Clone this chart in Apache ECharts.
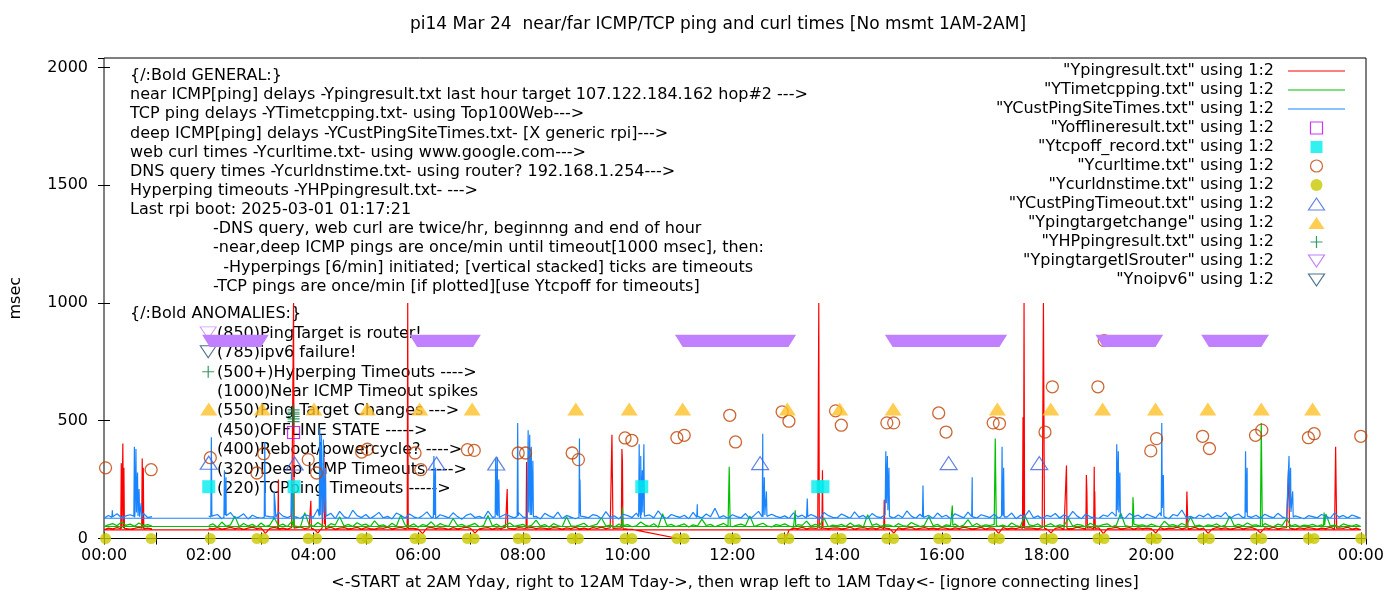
<!DOCTYPE html>
<html>
<head>
<meta charset="utf-8">
<script src="https://cdn.jsdelivr.net/npm/echarts@6/dist/echarts.min.js"></script>
<style>
html,body{margin:0;padding:0;background:#fff;}
#chart{width:1400px;height:600px;}
</style>
</head>
<body>
<div id="chart"></div>
<script>
// ---------------- DATA ----------------
// Regular 5-minute samples from 02:00 to 24:00 (one row per hour), then 00:00-00:55 (wrapped part)
const GRID_START = 2;          // hours
const EARLY_START = 0;         // hours
const STEP_MIN = 5;            // minutes between samples

const redGrid = [
 44,41,46,40,43,47,42,45,39,44,48,42,
 45,22,43,47,41,44,40,46,43,49,42,45,
 41,24,45,42,48,40,44,46,41,43,47,40,
 46,42,40,45,43,48,41,44,47,42,45,43,
 40,21,44,47,42,45,43,39,46,41,44,48,
 43,23,41,44,46,40,45,42,48,43,41,46,
 44,40,47,42,45,43,41,46,44,40,45,42,
 47,41,44,40,46,43,48,42,45,41,44,43,
 40,39,null,null,null,null,null,null,null,null,null,null,
 null,null,null,null,null,null,null,null,null,null,null,null,
 null,null,null,null,null,null,null,null,null,null,null,null,
 null,36,44,42,47,41,45,43,40,46,42,44,
 45,41,43,48,40,44,46,42,45,41,47,43,
 42,23,45,41,44,47,40,43,46,42,44,41,
 46,43,40,45,42,48,44,41,43,47,40,45,
 43,22,46,41,44,42,47,40,45,43,41,46,
 41,24,43,46,40,45,42,48,44,41,46,43,
 45,21,42,44,47,41,43,46,40,45,42,44,
 42,23,46,40,44,43,48,41,45,42,47,40,
 44,22,41,46,42,45,40,43,47,41,44,46,
 40,24,45,42,48,41,44,46,43,40,45,42,
 46,43,40,44,42,47,41,45,43,48,40,44,
 37
];
const redEarly = [37,44,41,46,42,45,40,43,47,42,44,41];
const redSpikes = [
 [0.32,42],[0.33,320],[0.34,60],[0.36,403],[0.37,45],[0.38,300],[0.39,43],
 [0.72,44],[0.73,340],[0.74,60],[0.75,300],[0.76,42],
 [3.32,43],[3.33,250],[3.34,44],
 [3.61,45],[3.62,1000],[3.63,44],
 [3.94,42],[3.95,160],[3.96,43],
 [4.19,44],[4.20,345],[4.21,60],[4.22,250],[4.23,42],
 [5.79,44],[5.80,1000],[5.81,43],
 [7.69,42],[7.70,210],[7.71,44],
 [8.06,43],[8.07,325],[8.08,44],
 [9.69,42],[9.70,440],[9.71,240],[9.72,43],
 [9.88,44],[9.89,380],[9.90,330],[9.91,42],
 [10.97,0],[12.0,null],[13.02,0],
 [13.63,44],[13.64,515],[13.65,1000],[13.66,45],[13.71,43],[13.72,290],[13.73,44],
 [14.89,42],[14.90,165],[14.91,44],
 [17.54,43],[17.55,515],[17.56,45],[17.57,1000],[17.58,44],
 [17.93,42],[17.94,1000],[17.95,515],[17.96,43],
 [18.37,44],[18.38,310],[18.39,42],
 [18.75,43],[18.76,270],[18.77,200],[18.78,44],
 [18.90,42],[18.91,305],[18.92,200],[18.93,43],
 [20.67,44],[20.68,200],[20.69,120],[20.70,42],
 [22.61,43],[22.62,290],[22.63,170],[22.64,44],
 [23.51,42],[23.52,390],[23.53,214],[23.54,43]
];

const greenGrid = [
 55,62,48,70,52,58,95,50,64,53,60,49,
 66,51,57,88,54,61,50,72,56,48,110,59,
 52,68,55,49,63,57,92,53,60,51,67,56,
 61,50,75,54,58,49,65,52,100,57,53,62,
 48,59,54,71,50,63,56,52,85,55,60,51,
 57,64,50,55,98,53,61,49,58,66,52,56,
 60,51,56,78,53,59,48,63,55,50,92,54,
 52,58,65,50,55,61,88,53,57,49,62,56,
 59,50,54,70,57,52,63,48,105,55,60,51,
 56,62,49,58,53,82,55,60,50,57,64,52,
 50,57,61,54,96,51,58,65,53,49,59,55,
 62,53,48,59,56,74,52,60,55,87,50,57,
 54,60,51,66,53,58,49,101,56,62,52,58,
 57,50,63,55,52,68,59,51,56,93,54,60,
 49,58,55,61,50,57,80,53,64,52,58,55,
 60,52,57,50,66,55,51,99,58,54,62,50,
 56,63,51,58,54,86,52,60,57,49,65,55,
 53,59,62,50,57,108,55,51,61,56,58,52,
 61,54,50,73,56,59,52,64,55,90,53,57,
 50,58,55,62,51,57,95,54,60,53,66,56,
 58,52,63,55,50,61,56,84,53,59,51,57,
 55,60,52,58,104,54,57,50,62,56,53,59,
 51
];
const greenEarly = [51,58,63,54,70,56,61,52,66,55,59,53];
const greenSpikes = [
 [3.61,55],[3.62,200],[3.63,54],
 [9.89,52],[9.90,130],[9.91,55],
 [11.93,54],[11.94,305],[11.95,150],[11.96,53],
 [13.19,55],[13.20,120],[13.21,52],
 [16.19,54],[16.20,140],[16.21,56],
 [17.01,53],[17.02,425],[17.03,240],[17.04,55],
 [19.64,52],[19.65,175],[19.66,130],[19.67,54],
 [22.09,55],[22.10,490],[22.11,268],[22.12,53],
 [23.29,54],[23.30,110],[23.31,56]
];

const blueGrid = [
 95,88,102,84,97,110,86,92,105,83,99,90,
 87,104,93,81,112,95,89,118,92,85,101,96,
 91,125,88,99,107,84,115,93,86,120,97,89,
 102,85,96,111,88,94,83,108,99,87,104,92,
 86,97,113,90,84,101,95,88,109,93,82,98,
 105,89,94,86,116,91,99,84,103,95,88,110,
 92,87,100,94,83,107,96,89,112,85,98,91,
 84,106,93,88,101,97,85,114,90,96,83,103,
 97,89,108,86,94,100,88,117,93,85,102,95,
 90,99,84,111,95,87,104,92,128,89,97,86,
 101,93,88,106,84,98,115,91,87,103,94,89,
 96,85,109,92,99,87,102,94,83,110,97,90,
 88,104,95,86,113,91,98,84,106,93,89,101,
 94,87,100,89,117,95,86,103,92,98,85,108,
 91,99,84,105,96,88,112,93,87,101,95,89,
 103,86,97,92,108,84,99,94,119,88,96,85,
 98,93,106,87,101,90,115,95,84,104,92,88,
 86,100,94,112,89,97,85,107,93,99,87,103,
 95,88,109,91,84,102,96,121,89,94,86,100,
 92,105,87,98,93,111,85,97,104,88,95,90,
 99,86,103,94,88,107,92,85,113,96,90,84,
 97,93,88,102,95,86,109,91,98,87,100,93,
 86
];
const blueEarly = [86,98,92,105,88,96,101,90,94,107,89,93];
const blueSpikes = [
 [0.15,90],[0.16,120],[0.17,92],
 [0.57,95],[0.58,390],[0.59,100],[0.61,380],[0.62,110],[0.64,280],[0.65,96],[0.67,210],[0.68,92],[0.71,150],[0.72,90],
 [2.04,92],[2.05,430],[2.06,95],
 [2.29,90],[2.30,290],[2.31,100],[2.33,260],[2.34,92],
 [3.06,90],[3.07,410],[3.08,96],
 [3.24,92],[3.25,200],[3.27,140],[3.28,90],
 [3.57,95],[3.58,280],[3.60,200],[3.61,92],
 [4.11,95],[4.12,470],[4.13,100],[4.15,440],[4.16,105],[4.19,420],[4.20,110],[4.23,300],[4.24,95],
 [6.29,90],[6.30,350],[6.31,100],[6.33,300],[6.34,92],
 [7.47,92],[7.48,340],[7.49,120],[7.51,345],[7.52,95],[7.54,250],[7.55,90],
 [7.89,94],[7.90,490],[7.91,96],
 [8.09,90],[8.10,460],[8.11,110],[8.13,440],[8.14,100],[8.16,390],[8.17,120],[8.19,330],[8.20,92],
 [9.07,90],[9.08,425],[9.09,250],[9.10,95],
 [10.21,92],[10.22,400],[10.23,120],[10.25,350],[10.26,100],[10.28,290],[10.29,110],[10.31,400],[10.32,95],
 [11.32,90],[11.33,145],[11.34,92],
 [12.57,92],[12.58,445],[12.59,110],[12.61,260],[12.62,100],[12.65,200],[12.66,94],
 [13.42,90],[13.43,170],[13.44,93],
 [14.92,94],[14.93,370],[14.94,150],[14.96,350],[14.97,120],[14.99,300],[15.00,95],
 [15.63,92],[15.64,225],[15.65,90],
 [16.57,93],[16.58,260],[16.59,91],
 [17.14,95],[17.15,390],[17.16,110],[17.18,300],[17.19,92],
 [19.33,94],[19.34,400],[19.35,120],[19.37,370],[19.38,110],[19.40,280],[19.41,92],
 [20.19,95],[20.20,490],[20.21,130],[20.23,270],[20.24,93],
 [21.79,92],[21.80,370],[21.81,110],[21.83,300],[21.84,94],
 [22.62,91],[22.63,350],[22.64,130],[22.66,300],[22.67,110],[22.70,200],[22.71,92]
];

const offlineResult = [[3.62,450]];
const tcpOffRecord = [[2.0,220],[3.63,220],[10.27,220],[13.63,220],[13.73,220]];
const curlTimes = [
 [0.03,300],[0.90,292],[2.03,343],[2.92,278],[3.05,360],[3.90,335],[4.06,278],[4.92,367],[5.03,379],
 [5.94,363],[6.05,292],[6.94,377],[7.07,374],[7.91,363],[8.05,363],[8.94,363],[9.06,335],[9.95,427],
 [10.08,417],[10.94,428],[11.08,438],[11.95,523],[12.06,410],[12.95,538],[13.08,498],[13.97,542],
 [14.08,481],[14.95,491],[15.08,491],[15.94,533],[16.08,452],[16.98,491],[17.10,488],[17.97,452],
 [18.11,644],[18.98,644],[19.10,840],[19.99,372],[20.10,424],[20.98,434],[21.11,382],[21.99,438],
 [22.11,460],[23.00,428],[23.11,445],[24.00,434]
];
const dnsTimes = [
 [0.03,0],[0.90,0],[2.03,0],[2.92,0],[3.05,0],[3.90,0],[4.06,0],[4.92,0],[5.03,0],
 [5.94,0],[6.05,0],[6.94,0],[7.07,0],[7.91,0],[8.05,0],[8.94,0],[9.06,0],[9.95,0],
 [10.08,0],[10.94,0],[11.08,0],[11.95,0],[12.06,0],[12.95,0],[13.08,0],[13.97,0],
 [14.08,0],[14.95,0],[15.08,0],[15.94,0],[16.08,0],[16.98,0],[17.10,0],[17.97,0],
 [18.11,0],[18.98,0],[19.10,0],[19.99,0],[20.10,0],[20.98,0],[21.11,0],[21.99,0],
 [22.11,0],[23.00,0],[23.11,0],[24.00,0]
];
const custPingTimeout = [[2.0,322],[3.64,318],[6.35,318],[7.49,318],[12.53,320],[16.13,320],[17.86,320]];
const pingTargetChange = [
 [2.00,550],[3.02,550],[4.01,550],[5.03,550],[6.03,550],[7.03,550],[9.01,550],[10.03,550],[11.05,550],
 [13.05,550],[14.05,550],[15.07,550],[17.06,550],[18.08,550],[19.07,550],[20.08,550],[21.08,550],
 [22.10,550],[23.08,550]
];
const hpPingResult = [[3.62,496],[3.62,508],[3.62,518],[3.62,528],[3.62,536],[3.62,546]];
// periods (start hour, end hour, level) with one marker per minute -> drawn as a merged band
const pingTargetIsRouter = [[2.02,3.0,840],[5.98,7.05,840],[11.05,13.07,840],[15.06,17.1,840],[19.08,20.08,840],[21.1,22.1,840]];
const noIpv6 = [];

const xTickHours = [0,2,4,6,8,10,12,14,16,18,20,22,24];
const yTicks = [0,500,1000,1500,2000];

const titleText = 'pi14 Mar 24  near/far ICMP/TCP ping and curl times [No msmt 1AM-2AM]';
const xAxisTitle = '<-START at 2AM Yday, right to 12AM Tday->, then wrap left to 1AM Tday<- [ignore connecting lines]';
const yAxisTitle = 'msec';
const generalLines = [
 '{/:Bold GENERAL:}',
 'near ICMP[ping] delays -Ypingresult.txt last hour target 107.122.184.162 hop#2 --->',
 'TCP ping delays -YTimetcpping.txt- using Top100Web--->',
 'deep ICMP[ping] delays -YCustPingSiteTimes.txt- [X generic rpi]--->',
 'web curl times -Ycurltime.txt- using www.google.com--->',
 'DNS query times -Ycurldnstime.txt- using router? 192.168.1.254--->',
 'Hyperping timeouts -YHPpingresult.txt- --->',
 'Last rpi boot: 2025-03-01 01:17:21'
];
const noteLines = [
 '-DNS query, web curl are twice/hr, beginnng and end of hour',
 '-near,deep ICMP pings are once/min until timeout[1000 msec], then:',
 '  -Hyperpings [6/min] initiated; [vertical stacked] ticks are timeouts',
 '-TCP pings are once/min [if plotted][use Ytcpoff for timeouts]'
];
const anomalyLines = [
 '{/:Bold ANOMALIES:}',
 '(850)PingTarget is router!',
 '(785)ipv6 failure!',
 '(500+)Hyperping Timeouts ---->',
 '(1000)Near ICMP Timeout spikes',
 '(550)Ping Target Changes --->',
 '(450)OFFLINE STATE ----->',
 '(400)Reboot/powercycle? ---->',
 '(320)Deep ICMP Timeouts ---->',
 '(220)TCPping Timeouts ----->'
];
const seriesNames = [
 '"Ypingresult.txt" using 1:2',
 '"YTimetcpping.txt" using 1:2',
 '"YCustPingSiteTimes.txt" using 1:2',
 '"Yofflineresult.txt" using 1:2',
 '"Ytcpoff_record.txt" using 1:2',
 '"Ycurltime.txt" using 1:2',
 '"Ycurldnstime.txt" using 1:2',
 '"YCustPingTimeout.txt" using 1:2',
 '"Ypingtargetchange" using 1:2',
 '"YHPpingresult.txt" using 1:2',
 '"YpingtargetISrouter" using 1:2',
 '"Ynoipv6" using 1:2'
];

// ---------------- build (recording order: 02:00 -> 24:00, then wrap to 00:00 -> 01:00) ----------------
const STEP_H = STEP_MIN / 60;
function buildLine(grid, early, extras) {
  const pts = [];
  grid.forEach((v, i) => { if (v !== null) pts.push([GRID_START + i * STEP_H, v]); });
  early.forEach((v, i) => { if (v !== null) pts.push([EARLY_START + i * STEP_H, v]); });
  extras.forEach(p => pts.push(p));
  const key = t => (t < GRID_START ? t + 24.0001 : t);
  pts.sort((a, b) => key(a[0]) - key(b[0]));
  return pts;
}
const redData = buildLine(redGrid, redEarly, redSpikes);
const greenData = buildLine(greenGrid, greenEarly, greenSpikes);
const blueData = buildLine(blueGrid, blueEarly, blueSpikes);

// ---------------- styling / layout ----------------
const FONT = '"DejaVu Sans", sans-serif';
const FS = 16;
const C = {
  red: '#ff0000', green: '#00c000', blue: '#1a84ff', offline: '#c000ff', tcpoff: '#00eeee',
  curl: '#c04000', dns: '#c8c800', custTo: '#3a62e0', target: '#ffc125', hp: '#008040',
  router: '#c080ff', noipv6: '#1f4f6f'
};
const TRI_UP = 'path://M8,0L16,12L0,12Z';
const TRI_DOWN = 'path://M0,0L16,0L8,12Z';
const PLUS = 'path://M5.4,0H6.6V5.4H12V6.6H6.6V12H5.4V6.6H0V5.4H5.4Z';
const SQUARE = 'path://M0,0H12V12H0Z';
const HLINE = 'path://M0,0H57V1.2H0Z';

const chart = echarts.init(document.getElementById('chart'), null, {renderer: 'canvas'});

function txt(text, x, y, align, size) {
  return {type: 'text', x: x, y: y, z: 0, silent: true,
    style: {text: text, fill: '#000', font: (size || FS) + 'px ' + FONT, align: align || 'left', verticalAlign: 'middle'}};
}
const graphics = [];
graphics.push(txt(titleText, 718, 25, 'center', 17));
generalLines.forEach((t, i) => graphics.push(txt(t, 130, 76 + i * 19.15)));
noteLines.forEach((t, i) => graphics.push(txt(t, 213, 229 + i * 19.3)));
anomalyLines.forEach((t, i) => graphics.push(txt(t, i === 0 ? 130 : 217, 314 + i * 19.45)));

const annotationMarks = [
  {value: [1.99, 873], symbol: TRI_DOWN, symbolSize: [16, 12], itemStyle: {color: 'transparent', borderColor: C.router, borderWidth: 1}},
  {value: [1.99, 793], symbol: TRI_DOWN, symbolSize: [16, 12], itemStyle: {color: 'transparent', borderColor: C.noipv6, borderWidth: 1}},
  {value: [1.99, 708], symbol: PLUS, symbolSize: 12, itemStyle: {color: C.hp}}
];

function xLabel(v) {
  if (Math.abs(v - Math.round(v)) > 1e-6) return '';
  if (xTickHours.indexOf(Math.round(v)) < 0) return '';
  const h = Math.round(v) % 24;
  return (h < 10 ? '0' : '') + h + ':00';
}
function yLabel(v) { return yTicks.indexOf(v) >= 0 ? String(v) : ''; }

const XMIN = 0, XMAX = 24.1, YMIN = 0, YMAX = 2040;
const axisCommon = {
  axisLine: {show: false}, splitLine: {show: false},
  axisTick: {show: true, inside: true, length: 6, lineStyle: {color: '#000', width: 1}}
};

const option = {
  animation: false,
  backgroundColor: '#fff',
  textStyle: {fontFamily: FONT, fontSize: FS, color: '#000'},
  grid: {left: 101.7, right: 34, top: 58, bottom: 61.5, show: true, borderColor: '#000', borderWidth: 1, backgroundColor: 'transparent'},
  xAxis: [
    Object.assign({}, axisCommon, {type: 'value', position: 'bottom', min: XMIN, max: XMAX, interval: 1,
      name: xAxisTitle, nameLocation: 'middle', nameGap: 36,
      nameTextStyle: {fontFamily: FONT, fontSize: FS, color: '#000'},
      axisLabel: {formatter: xLabel, margin: 9, fontFamily: FONT, fontSize: FS, color: '#000', showMaxLabel: false}}),
    Object.assign({}, axisCommon, {type: 'value', position: 'top', min: XMIN, max: XMAX, interval: 1,
      axisLabel: {show: false}})
  ],
  yAxis: [
    Object.assign({}, axisCommon, {type: 'value', position: 'left', min: YMIN, max: YMAX, interval: 500,
      name: yAxisTitle, nameLocation: 'middle', nameGap: 80,
      nameTextStyle: {fontFamily: FONT, fontSize: FS, color: '#000'},
      axisLabel: {formatter: yLabel, margin: 16, fontFamily: FONT, fontSize: FS, color: '#000', showMaxLabel: false}}),
    Object.assign({}, axisCommon, {type: 'value', position: 'right', min: YMIN, max: YMAX, interval: 500,
      axisLabel: {show: false}})
  ],
  legend: {
    orient: 'vertical', align: 'right', right: 55, top: 63, padding: 0,
    itemWidth: 57, itemHeight: 12, itemGap: 3,
    textStyle: {fontFamily: FONT, fontSize: FS, color: '#000', lineHeight: 16, padding: [0, 9, 0, 0]},
    selectedMode: false,
    data: [
      {name: seriesNames[0], icon: HLINE, itemStyle: {color: C.red, borderWidth: 0}},
      {name: seriesNames[1], icon: HLINE, itemStyle: {color: C.green, borderWidth: 0}},
      {name: seriesNames[2], icon: HLINE, itemStyle: {color: C.blue, borderWidth: 0}},
      {name: seriesNames[3], icon: SQUARE, itemStyle: {color: 'transparent', borderColor: C.offline, borderWidth: 1.2}},
      {name: seriesNames[4], icon: SQUARE, itemStyle: {color: C.tcpoff, borderWidth: 0}},
      {name: seriesNames[5], icon: 'circle', itemStyle: {color: 'transparent', borderColor: C.curl, borderWidth: 1.2}},
      {name: seriesNames[6], icon: 'circle', itemStyle: {color: C.dns, borderWidth: 0}},
      {name: seriesNames[7], icon: TRI_UP, itemStyle: {color: 'transparent', borderColor: C.custTo, borderWidth: 1.2}},
      {name: seriesNames[8], icon: TRI_UP, itemStyle: {color: C.target, borderWidth: 0}},
      {name: seriesNames[9], icon: PLUS, itemStyle: {color: C.hp, borderWidth: 0}},
      {name: seriesNames[10], icon: TRI_DOWN, itemStyle: {color: 'transparent', borderColor: C.router, borderWidth: 1.2}},
      {name: seriesNames[11], icon: TRI_DOWN, itemStyle: {color: 'transparent', borderColor: C.noipv6, borderWidth: 1.2}}
    ]
  },
  graphic: graphics,
  series: [
    {name: seriesNames[0], type: 'line', data: redData, symbol: 'none', showSymbol: false, connectNulls: false,
      lineStyle: {color: C.red, width: 1.2}, itemStyle: {color: C.red}, silent: true, z: 2},
    {name: seriesNames[1], type: 'line', data: greenData, symbol: 'none', showSymbol: false,
      lineStyle: {color: C.green, width: 1.2}, itemStyle: {color: C.green}, silent: true, z: 2},
    {name: seriesNames[2], type: 'line', data: blueData, symbol: 'none', showSymbol: false,
      lineStyle: {color: C.blue, width: 1.2}, itemStyle: {color: C.blue}, silent: true, z: 2},
    {name: seriesNames[3], type: 'scatter', data: offlineResult, symbol: 'rect', symbolSize: 12, clip: false,
      itemStyle: {color: 'transparent', borderColor: C.offline, borderWidth: 1.2}, silent: true, z: 3},
    {name: seriesNames[4], type: 'scatter', data: tcpOffRecord, symbol: 'rect', symbolSize: 13, clip: false,
      itemStyle: {color: C.tcpoff}, silent: true, z: 3},
    {name: seriesNames[5], type: 'scatter', data: curlTimes, symbol: 'circle', symbolSize: 12, clip: false,
      itemStyle: {color: 'transparent', borderColor: C.curl, borderWidth: 1.3}, silent: true, z: 3},
    {name: seriesNames[6], type: 'scatter', data: dnsTimes, symbol: 'circle', symbolSize: 11, clip: false,
      itemStyle: {color: C.dns}, silent: true, z: 3},
    {name: seriesNames[7], type: 'scatter', data: custPingTimeout, symbol: TRI_UP, symbolSize: [17, 13], clip: false,
      itemStyle: {color: 'transparent', borderColor: C.custTo, borderWidth: 1.2}, silent: true, z: 3},
    {name: seriesNames[8], type: 'scatter', data: pingTargetChange, symbol: TRI_UP, symbolSize: [17, 13], clip: false,
      itemStyle: {color: C.target}, silent: true, z: 3},
    {name: seriesNames[9], type: 'scatter', data: hpPingResult, symbol: PLUS, symbolSize: 12, clip: false,
      itemStyle: {color: C.hp}, silent: true, z: 3},
    {name: seriesNames[10], type: 'custom', data: pingTargetIsRouter, encode: {x: [0, 1], y: 2}, silent: true,
      z: 10, zlevel: 1,
      itemStyle: {color: C.router},
      renderItem: function (params, api) {
        const a = api.coord([api.value(0), api.value(2)]);
        const b = api.coord([api.value(1), api.value(2)]);
        return {type: 'polygon', shape: {points: [[a[0] - 7.7, a[1] - 6], [b[0] + 7.7, b[1] - 6], [b[0], b[1] + 6.3], [a[0], a[1] + 6.3]]},
          style: {fill: C.router}};
      }},
    {name: seriesNames[11], type: 'scatter', data: noIpv6, symbol: TRI_DOWN, symbolSize: [16, 12],
      itemStyle: {color: 'transparent', borderColor: C.noipv6, borderWidth: 1.2}, silent: true, z: 3},
    {name: 'annotation-marks', type: 'scatter', data: annotationMarks, clip: false, silent: true, z: 1}
  ]
};
chart.setOption(option);
</script>
</body>
</html>
